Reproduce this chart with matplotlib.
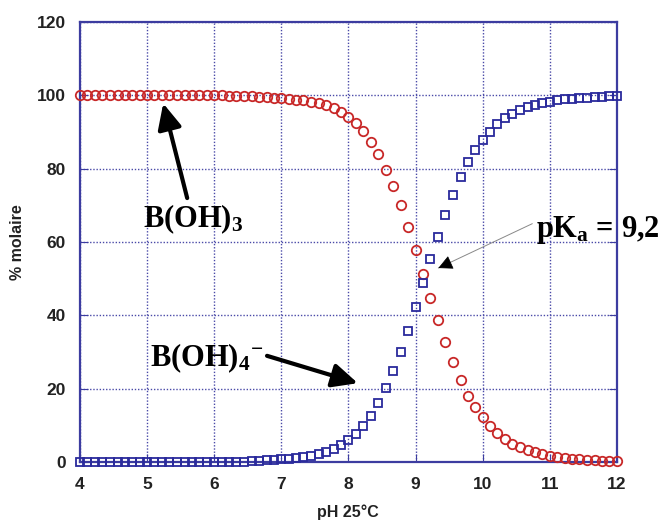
import matplotlib
matplotlib.use("Agg")
import matplotlib.pyplot as plt

# pH grid (25 °C) and molar percentages
ph = [4.00, 4.11, 4.22, 4.33, 4.44, 4.56, 4.67, 4.78, 4.89,
      5.00, 5.11, 5.22, 5.33, 5.44, 5.56, 5.67, 5.78, 5.89,
      6.00, 6.11, 6.22, 6.33, 6.44, 6.56, 6.67, 6.78, 6.89,
      7.00, 7.11, 7.22, 7.33, 7.44, 7.56, 7.67, 7.78, 7.89,
      8.00, 8.11, 8.22, 8.33, 8.44, 8.56, 8.67, 8.78, 8.89,
      9.00, 9.11, 9.22, 9.33, 9.44, 9.56, 9.67, 9.78, 9.89,
      10.00, 10.11, 10.22, 10.33, 10.44, 10.56, 10.67, 10.78, 10.89,
      11.00, 11.11, 11.22, 11.33, 11.44, 11.56, 11.67, 11.78, 11.89,
      12.00]

boric_acid = [100.0, 100.0, 100.0, 100.0, 100.0, 100.0, 100.0, 100.0, 100.0,
              100.0, 100.0, 100.0, 100.0, 100.0, 100.0, 100.0, 100.0, 100.0,
              100.0, 100.0, 99.9, 99.9, 99.9, 99.7, 99.6, 99.5, 99.4,
              99.3, 99.1, 98.8, 98.6, 98.3, 97.8, 97.3, 96.5, 95.4,
              94.0, 92.4, 90.2, 87.4, 84.0, 79.7, 75.2, 70.0, 64.2,
              57.8, 51.2, 44.6, 38.6, 32.7, 27.3, 22.4, 18.1, 14.9,
              12.2, 9.9, 7.8, 6.3, 5.0, 4.0, 3.2, 2.6, 2.1,
              1.7, 1.4, 1.1, 0.9, 0.7, 0.6, 0.5, 0.4, 0.3,
              0.3]

borate = [0.0, 0.0, 0.0, 0.0, 0.0, 0.0, 0.0, 0.0, 0.0,
          0.0, 0.0, 0.0, 0.0, 0.0, 0.0, 0.0, 0.0, 0.0,
          0.0, 0.0, 0.1, 0.1, 0.1, 0.3, 0.4, 0.5, 0.6,
          0.7, 0.9, 1.2, 1.4, 1.7, 2.2, 2.7, 3.5, 4.6,
          6.0, 7.6, 9.8, 12.6, 16.0, 20.3, 24.8, 30.0, 35.8,
          42.2, 48.8, 55.4, 61.4, 67.3, 72.7, 77.6, 81.9, 85.1,
          87.8, 90.1, 92.2, 93.7, 95.0, 96.0, 96.8, 97.4, 97.9,
          98.3, 98.6, 98.9, 99.1, 99.3, 99.4, 99.5, 99.6, 99.7,
          99.7]

x_ticks = [4, 5, 6, 7, 8, 9, 10, 11, 12]
y_ticks = [0, 20, 40, 60, 80, 100, 120]

frame_blue = "#3c3ca0"
grid_blue = "#4a4aa8"

plt.rcParams["mathtext.fontset"] = "custom"
plt.rcParams["mathtext.rm"] = "Liberation Serif:bold"
plt.rcParams["mathtext.it"] = "Liberation Serif:bold"
plt.rcParams["mathtext.bf"] = "Liberation Serif:bold"

fig = plt.figure(figsize=(6.64, 5.21), dpi=100)
ax = fig.add_axes([0.1205, 0.1132, 0.8085, 0.8446])

ax.plot(ph, boric_acid, linestyle="none", marker="o", markersize=6.8,
        markerfacecolor="none", markeredgecolor="#c82828", markeredgewidth=1.3,
        clip_on=False, zorder=3)
ax.plot(ph, borate, linestyle="none", marker="s", markersize=6.2,
        markerfacecolor="none", markeredgecolor="#2a2a9c", markeredgewidth=1.3,
        clip_on=False, zorder=3)

ax.set_xlim(4, 12)
ax.set_ylim(0, 120)
ax.set_xticks(x_ticks)
ax.set_yticks(y_ticks)

ax.grid(True, color=grid_blue, linestyle=(0, (1, 1.3)), linewidth=1.0)
ax.set_axisbelow(True)
for spine in ax.spines.values():
    spine.set_color(frame_blue)
    spine.set_linewidth(1.6)

ax.tick_params(axis="both", direction="in", length=6, color=frame_blue,
               right=True, top=False, labelsize=12.5, labelcolor="#222222")
ax.tick_params(axis="x", pad=11)
ax.tick_params(axis="y", pad=10)
for lbl in ax.get_xticklabels() + ax.get_yticklabels():
    lbl.set_fontfamily("Liberation Sans")
    lbl.set_fontweight("bold")

fig.text(0.524, 0.017, "pH 25°C", ha="center", va="center", fontsize=11.5,
         fontweight="bold", family="Liberation Sans", color="#222222")
fig.text(0.026, 0.535, "% molaire", ha="center", va="center", rotation=90,
         fontsize=11.5, fontweight="bold", family="Liberation Sans", color="#222222")

# species labels
ax.annotate(r"$\mathrm{B(OH)_3}$", xy=(5.24, 97.8), xytext=(4.94, 64.1),
            fontsize=22, ha="left", va="baseline", annotation_clip=False,
            arrowprops=dict(arrowstyle="-|>,head_length=0.7,head_width=0.33",
                            color="black", lw=3, shrinkA=1, shrinkB=0,
                            relpos=(0.45, 1.0)))
ax.annotate(r"$\mathrm{B(OH)_4{}^{-}}$", xy=(8.14, 21.5), xytext=(5.04, 26.2),
            fontsize=22, ha="left", va="baseline", annotation_clip=False,
            arrowprops=dict(arrowstyle="-|>,head_length=0.7,head_width=0.33",
                            color="black", lw=3, shrinkA=1, shrinkB=0,
                            relpos=(1.0, 0.6)))

# pKa label with thin leader line and black head
ax.annotate("", xy=(9.34, 52.9), xytext=(10.74, 65.0), annotation_clip=False,
            arrowprops=dict(arrowstyle="-", color="#888888", lw=0.7,
                            shrinkA=0, shrinkB=0))
ax.annotate("", xy=(9.34, 52.9), xytext=(9.40, 53.4), annotation_clip=False,
            arrowprops=dict(arrowstyle="-|>,head_length=0.9,head_width=0.45",
                            color="black", lw=0.5, shrinkA=0, shrinkB=0))
ax.text(10.80, 61.4, r"$\mathrm{pK_a}$ = 9,2", fontsize=22, ha="left",
        va="baseline", family="Liberation Serif", fontweight="bold",
        clip_on=False)

fig.savefig("out.png", dpi=100)
